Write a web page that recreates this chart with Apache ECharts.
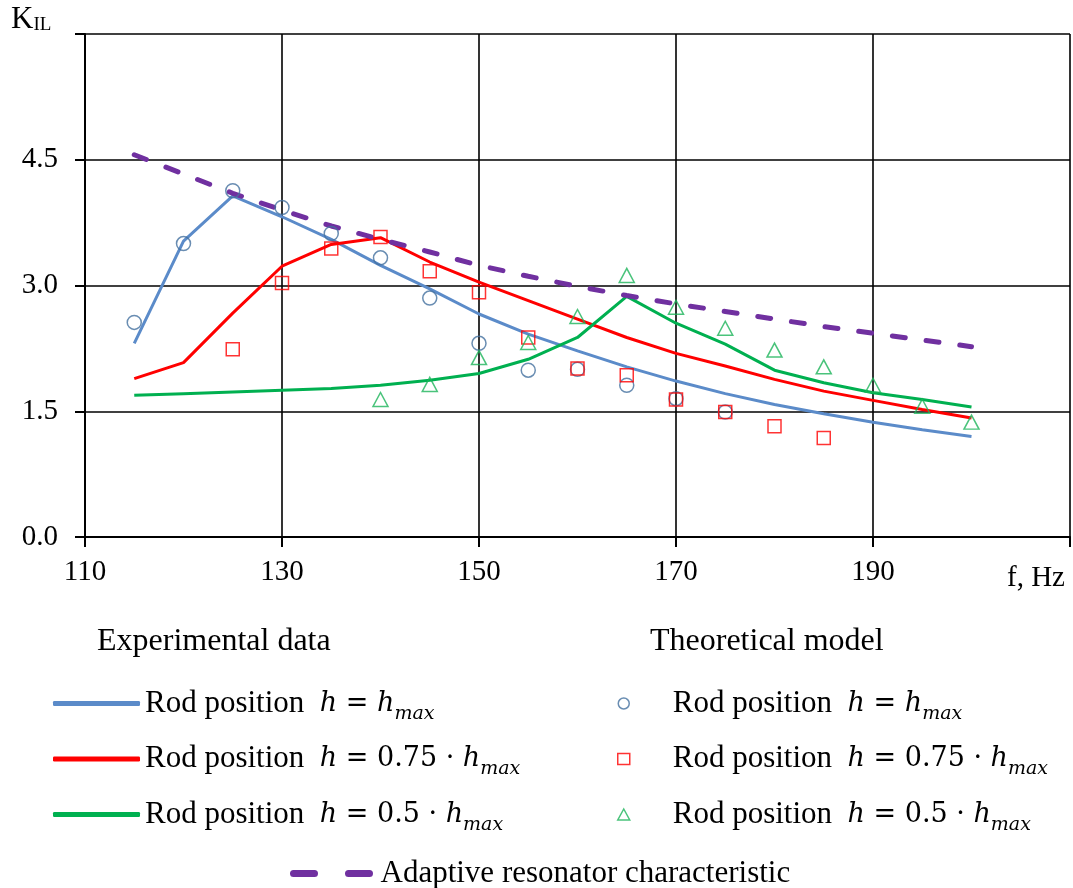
<!DOCTYPE html>
<html>
<head>
<meta charset="utf-8">
<script src="https://cdn.jsdelivr.net/npm/echarts@6/dist/echarts.min.js"></script>
<style>
html,body{margin:0;padding:0;background:#fff;}
#chart{width:1073px;height:888px;}
</style>
</head>
<body>
<div id="chart"></div>
<script>
// ---- Data ----
const freqExp = [115,120,125,130,135,140,145,150,155,160,165,170,175,180,185,190,195,200];
const expHmax = [2.31,3.53,4.07,3.82,3.55,3.24,2.96,2.66,2.42,2.22,2.03,1.86,1.71,1.58,1.47,1.37,1.28,1.20];
const exp075  = [1.89,2.08,2.67,3.23,3.49,3.57,3.28,3.04,2.82,2.60,2.38,2.19,2.04,1.88,1.74,1.63,1.52,1.42];
const exp05   = [1.69,1.71,1.73,1.75,1.77,1.81,1.87,1.95,2.12,2.38,2.87,2.55,2.30,1.99,1.84,1.72,1.64,1.55];
const adaptive = [4.56,4.33,4.10,3.90,3.71,3.55,3.40,3.24,3.11,2.99,2.88,2.78,2.69,2.60,2.51,2.43,2.35,2.27];

const freqTheoHmax = [115,120,125,130,135,140,145,150,155,160,165,170,175];
const theoHmax     = [2.56,3.50,4.13,3.93,3.62,3.33,2.85,2.31,1.99,2.00,1.81,1.65,1.49];
const freqTheo075  = [125,130,135,140,145,150,155,160,165,170,175,180,185];
const theo075      = [2.24,3.03,3.44,3.58,3.17,2.92,2.38,2.01,1.93,1.64,1.49,1.32,1.18];
const freqTheo05   = [140,145,150,155,160,165,170,175,180,185,190,195,200];
const theo05       = [1.64,1.82,2.14,2.32,2.63,3.12,2.74,2.49,2.23,2.03,1.81,1.56,1.37];

const xTicks = [110,130,150,170,190];          // labelled x ticks
const yTicks = [0, 1.5, 3.0, 4.5];             // labelled y ticks

const names = {
  e1: 'Experimental: Rod position h = hmax',
  e2: 'Experimental: Rod position h = 0.75·hmax',
  e3: 'Experimental: Rod position h = 0.5·hmax',
  t1: 'Theoretical: Rod position h = hmax',
  t2: 'Theoretical: Rod position h = 0.75·hmax',
  t3: 'Theoretical: Rod position h = 0.5·hmax',
  a:  'Adaptive resonator characteristic'
};

const zip = (xs, ys) => xs.map((x, i) => [x, ys[i]]);

const C = {
  blue: '#5B8BC9', blueMk: '#44719F', red: '#FF0000', green: '#00B050', greenMk: '#1DB45A', purple: '#7030A0'
};

const SERIF = "'Liberation Serif','Times New Roman',serif";
const MATH = "'DejaVu Serif',serif";

const rich = {
  g: {width: 38, lineHeight: 40},
  t: {fontFamily: SERIF, fontSize: 31, lineHeight: 40, color: '#000'},
  i: {fontFamily: MATH, fontStyle: 'italic', fontSize: 27, lineHeight: 40, color: '#000'},
  n: {fontFamily: MATH, fontSize: 27, lineHeight: 40, color: '#000'},
  s: {fontFamily: MATH, fontStyle: 'italic', fontSize: 19, lineHeight: 14, verticalAlign: 'bottom', color: '#000'},
  a: {fontFamily: SERIF, fontSize: 31, lineHeight: 40, color: '#000'}
};
const body1 = '{t|Rod position  }{i|h}{n| = }{i|h}{s|max}';
const body2 = '{t|Rod position  }{i|h}{n| = 0.75 · }{i|h}{s|max}';
const body3 = '{t|Rod position  }{i|h}{n| = 0.5 · }{i|h}{s|max}';
const labelFor = {};
labelFor[names.e1] = body1; labelFor[names.t1] = '{g|}' + body1;
labelFor[names.e2] = body2; labelFor[names.t2] = '{g|}' + body2;
labelFor[names.e3] = body3; labelFor[names.t3] = '{g|}' + body3;
labelFor[names.a] = '{a|Adaptive resonator characteristic}';
const fmt = n => labelFor[n];

const chart = echarts.init(document.getElementById('chart'), null, {renderer: 'canvas'});

const option = {
  animation: false,
  backgroundColor: '#fff',
  grid: {left: 85, top: 34, right: 1, bottom: 351, containLabel: false},
  xAxis: {
    type: 'value', min: 110, max: 210, interval: 20,
    axisLine: {show: true, onZero: false, lineStyle: {color: '#000', width: 2}},
    axisTick: {show: true, length: 10, lineStyle: {color: '#000', width: 2}},
    splitLine: {show: true, lineStyle: {color: '#000', width: 1.6}},
    axisLabel: {
      margin: 21, color: '#000', fontFamily: SERIF, fontSize: 29,
      formatter: v => xTicks.indexOf(v) >= 0 ? String(v) : ''
    }
  },
  yAxis: {
    type: 'value', min: 0, max: 6, interval: 1.5,
    axisLine: {show: true, lineStyle: {color: '#000', width: 2}},
    axisTick: {show: true, length: 10, lineStyle: {color: '#000', width: 2}},
    splitLine: {show: true, lineStyle: {color: '#000', width: 1.6}},
    axisLabel: {
      margin: 27, color: '#000', fontFamily: SERIF, fontSize: 29,
      formatter: v => yTicks.some(t => Math.abs(t - v) < 1e-9) ? v.toFixed(1) : ''
    }
  },
  legend: [
    {
      orient: 'vertical', left: 53, top: 688, padding: 0, itemWidth: 87, itemHeight: 5, itemGap: 20,
      formatter: fmt, textStyle: {rich: rich}, selectedMode: false,
      data: [
        {name: names.e1, icon: 'roundRect', itemStyle: {color: C.blue}},
        {name: names.e2, icon: 'roundRect', itemStyle: {color: C.red}},
        {name: names.e3, icon: 'roundRect', itemStyle: {color: C.green}}
      ]
    },
    {
      orient: 'vertical', left: 617, top: 688, padding: 0, itemWidth: 12, itemHeight: 11, itemGap: 20,
      formatter: fmt, textStyle: {rich: rich}, selectedMode: false,
      data: [
        {name: names.t1, icon: 'circle', itemStyle: {color: 'rgba(0,0,0,0)', borderColor: C.blueMk, borderWidth: 1.5}},
        {name: names.t2, icon: 'rect', itemStyle: {color: 'rgba(0,0,0,0)', borderColor: C.red, borderWidth: 1.5}},
        {name: names.t3, icon: 'triangle', itemStyle: {color: 'rgba(0,0,0,0)', borderColor: C.greenMk, borderWidth: 1.5}}
      ]
    },
    {
      orient: 'horizontal', left: 290, top: 858, padding: 0, itemWidth: 88, itemHeight: 7,
      formatter: fmt, textStyle: {rich: rich}, selectedMode: false,
      data: [
        {name: names.a, icon: 'path://M3.5,0 h21 a3.5,3.5 0 0 1 0,7 h-21 a3.5,3.5 0 0 1 0,-7 z M58.5,0 h21 a3.5,3.5 0 0 1 0,7 h-21 a3.5,3.5 0 0 1 0,-7 z', itemStyle: {color: C.purple}}
      ]
    }
  ],
  graphic: [
    {type: 'text', left: 11, top: 4, style: {
      text: '{k|K}{s|IL}', rich: {
        k: {fontFamily: SERIF, fontSize: 31, lineHeight: 32, fill: '#000', verticalAlign: 'bottom'},
        s: {fontFamily: SERIF, fontSize: 19, lineHeight: 14, fill: '#000', verticalAlign: 'bottom'}
      }
    }},
    {type: 'text', left: 1007, top: 564, style: {text: 'f, Hz', font: "29px 'Liberation Serif'", fill: '#000'}},
    {type: 'text', left: 97, top: 626, style: {text: 'Experimental data', font: "32px 'Liberation Serif'", fill: '#000'}},
    {type: 'text', left: 650, top: 626, style: {text: 'Theoretical model', font: "32px 'Liberation Serif'", fill: '#000'}}
  ],
  series: [
    {name: names.a, type: 'line', data: zip(freqExp, adaptive), symbol: 'none', z: 3,
     lineStyle: {color: C.purple, width: 5, type: [13, 21], cap: 'round'}, itemStyle: {color: C.purple}},
    {name: names.e1, type: 'line', data: zip(freqExp, expHmax), symbol: 'none', z: 2,
     lineStyle: {color: C.blue, width: 3}, itemStyle: {color: C.blue}},
    {name: names.e2, type: 'line', data: zip(freqExp, exp075), symbol: 'none', z: 2,
     lineStyle: {color: C.red, width: 3}, itemStyle: {color: C.red}},
    {name: names.e3, type: 'line', data: zip(freqExp, exp05), symbol: 'none', z: 2,
     lineStyle: {color: C.green, width: 3}, itemStyle: {color: C.green}},
    {name: names.t1, type: 'scatter', data: zip(freqTheoHmax, theoHmax), symbol: 'circle', symbolSize: 14, z: 4,
     itemStyle: {color: 'rgba(0,0,0,0)', borderColor: C.blueMk, borderWidth: 1.5}},
    {name: names.t2, type: 'scatter', data: zip(freqTheo075, theo075), symbol: 'rect', symbolSize: 13, z: 4,
     itemStyle: {color: 'rgba(0,0,0,0)', borderColor: C.red, borderWidth: 1.5}},
    {name: names.t3, type: 'scatter', data: zip(freqTheo05, theo05), symbol: 'triangle', symbolSize: [15, 14], z: 4,
     itemStyle: {color: 'rgba(0,0,0,0)', borderColor: C.greenMk, borderWidth: 1.5}}
  ]
};
chart.setOption(option);
</script>
</body>
</html>
